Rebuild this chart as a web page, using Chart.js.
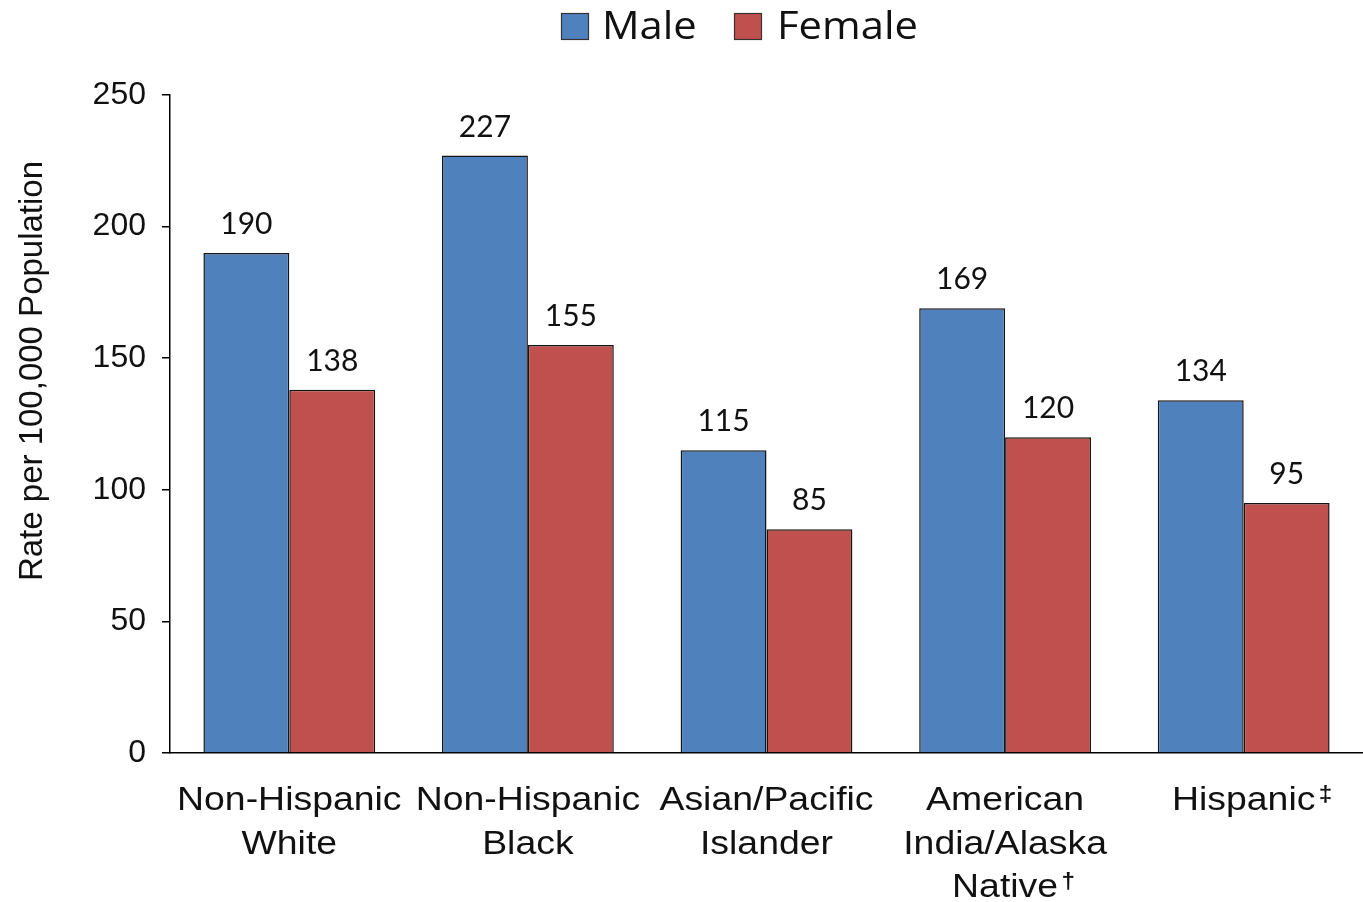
<!DOCTYPE html>
<html>
<head>
<meta charset="utf-8">
<script src="https://cdn.jsdelivr.net/npm/chart.js@4/dist/chart.umd.min.js"></script>
<style>
  html, body { margin: 0; padding: 0; background: #ffffff; }
  #wrap { width: 1363px; height: 902px; }
</style>
</head>
<body>
<div id="wrap"><canvas id="c" width="1363" height="902"></canvas></div>
<script>
// Category labels (one entry per line) and footnote marks
const categories = [
  ["Non-Hispanic", "White"],
  ["Non-Hispanic", "Black"],
  ["Asian/Pacific", "Islander"],
  ["American", "India/Alaska", "Native"],
  ["Hispanic"]
];
const footnoteMarks = ["", "", "", "\u2020", "\u2021"];

// Series
const seriesNames = ["Male", "Female"];
const maleRates = [190, 227, 115, 169, 134];
const femaleRates = [138, 155, 85, 120, 95];

// Value axis
const yTicks = [0, 50, 100, 150, 200, 250];
const yTitle = "Rate per 100,000 Population";

const COLORS = ["#4F81BD", "#C0504D"];
const EDGE = "#141414";

// Legend, axis title, category labels and value labels drawn on the canvas
const decorations = {
  id: "decorations",
  afterDatasetsDraw(chart) {
    const ctx = chart.ctx;
    ctx.save();
    ctx.fillStyle = "#111";
    ctx.font = "30px Lato";
    ctx.textAlign = "center";
    ctx.textBaseline = "alphabetic";
    chart.data.datasets.forEach((ds, di) => {
      chart.getDatasetMeta(di).data.forEach((bar, i) => {
        ctx.fillText(String(ds.data[i]), bar.x, bar.y - 19);
      });
    });
    ctx.restore();
  },
  afterDraw(chart) {
    const ctx = chart.ctx;
    const xs = chart.scales.x;

    // Legend
    ctx.save();
    const legendItems = [
      { box: 561, text: 602 },
      { box: 734, text: 777 }
    ];
    ctx.font = "38px 'Open Sans'";
    ctx.textBaseline = "alphabetic";
    ctx.textAlign = "left";
    seriesNames.forEach((name, i) => {
      const it = legendItems[i];
      ctx.fillStyle = COLORS[i];
      ctx.fillRect(it.box, 13, 27, 26);
      ctx.strokeStyle = "#333";
      ctx.lineWidth = 1.2;
      ctx.strokeRect(it.box + 0.5, 13.5, 27, 26);
      ctx.fillStyle = "#111";
      ctx.save();
      ctx.translate(it.text, 39);
      ctx.scale(1.1, 1);
      ctx.fillText(name, 0, 0);
      ctx.restore();
    });
    ctx.restore();

    // Value axis title
    ctx.save();
    ctx.translate(42, 371);
    ctx.rotate(-Math.PI / 2);
    ctx.font = "33px 'Liberation Sans'";
    ctx.fillStyle = "#111";
    ctx.textAlign = "center";
    ctx.textBaseline = "alphabetic";
    ctx.fillText(yTitle, 0, 0);
    ctx.restore();

    // Category labels
    ctx.save();
    ctx.fillStyle = "#111";
    ctx.textBaseline = "alphabetic";
    const stretch = 1.1;
    const markGap = 3;
    categories.forEach((lines, i) => {
      const cx = xs.getPixelForValue(i);
      lines.forEach((line, li) => {
        const last = li === lines.length - 1;
        const mark = last ? footnoteMarks[i] : "";
        ctx.font = "34px 'Liberation Sans'";
        const w = ctx.measureText(line).width * stretch;
        const y = 810 + li * 43.5;
        const left = cx - w / 2;
        ctx.save();
        ctx.translate(left, y);
        ctx.scale(stretch, 1);
        ctx.textAlign = "left";
        ctx.fillText(line, 0, 0);
        if (mark) {
          ctx.font = "bold 22px 'Liberation Sans'";
          ctx.fillText(mark, w / stretch + markGap, -9);
        }
        ctx.restore();
      });
    });
    ctx.restore();
  }
};

new Chart(document.getElementById("c"), {
  type: "bar",
  data: {
    labels: categories.map(c => c.join(" ")),
    datasets: [
      {
        label: seriesNames[0],
        data: maleRates,
        backgroundColor: COLORS[0],
        borderColor: EDGE,
        borderWidth: 1.5,
        categoryPercentage: 0.72,
        barPercentage: 1.0
      },
      {
        label: seriesNames[1],
        data: femaleRates,
        backgroundColor: COLORS[1],
        borderColor: EDGE,
        borderWidth: 1.5,
        categoryPercentage: 0.72,
        barPercentage: 1.0
      }
    ]
  },
  options: {
    responsive: false,
    animation: false,
    devicePixelRatio: 1,
    layout: { padding: { top: 95, left: 0, right: 0, bottom: 0 } },
    plugins: {
      legend: { display: false },
      tooltip: { enabled: false },
      title: { display: false }
    },
    scales: {
      x: {
        type: "category",
        offset: true,
        grid: { display: false, drawTicks: false },
        border: { display: true, color: "#000", width: 1.5 },
        ticks: { display: false },
        afterFit(scale) { scale.height = 149; }
      },
      y: {
        min: yTicks[0],
        max: yTicks[yTicks.length - 1],
        afterBuildTicks(scale) { scale.ticks = yTicks.map(v => ({ value: v })); },
        grid: {
          drawOnChartArea: false,
          drawTicks: true,
          tickLength: 8,
          color: "#000",
          lineWidth: 1.5
        },
        border: { display: true, color: "#000", width: 1.5 },
        ticks: {
          font: { family: "'Liberation Sans'", size: 32 },
          color: "#111",
          padding: 16
        },
        afterFit(scale) { scale.width = 170; }
      }
    }
  },
  plugins: [decorations]
});
</script>
</body>
</html>
